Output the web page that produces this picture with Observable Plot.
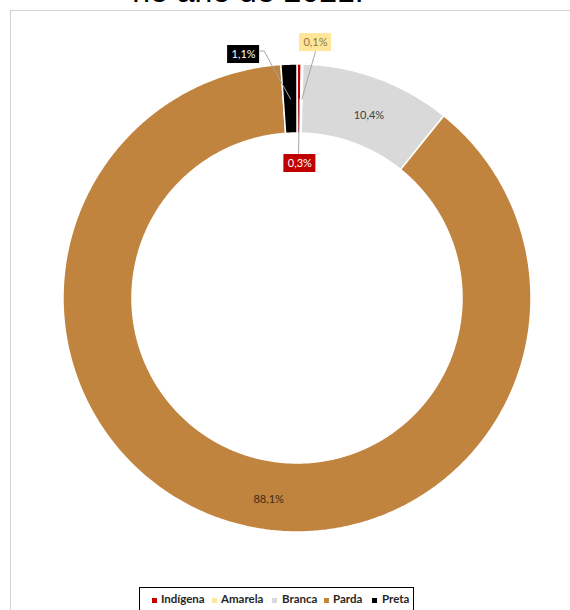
<!DOCTYPE html>
<html>
<head>
<meta charset="utf-8">
<script src="https://cdn.jsdelivr.net/npm/d3@7"></script>
<script src="https://cdn.jsdelivr.net/npm/@observablehq/plot@0.6"></script>
<style>
  html, body { margin: 0; padding: 0; background: #fff; width: 570px; height: 610px; overflow: hidden; }
  body { position: relative; }
  #chart { position: absolute; left: 0; top: 0; }
  #chart svg { background: transparent; }
  #frame { position: absolute; left: 10px; top: 10px; width: 620px; height: 660px;
           border-left: 1px solid #d2d2d2; border-top: 1px solid #d2d2d2; pointer-events: none; }
  #title { position: absolute; left: 0; width: 496px; top: -25px; text-align: center; white-space: nowrap;
           font: 32px/32px "Liberation Sans", Arial, sans-serif; color: #000; }
  #legend { position: absolute; left: 139px; top: 587px; width: 275px; height: 40px; box-sizing: border-box;
            border: 1px solid #000; background: #fff; }
  #legend .sw { position: absolute; top: 10px; width: 5px; height: 5px; }
  #legend .lb { position: absolute; top: 4px; font: bold 11.5px/14px Lato, sans-serif; color: #262626; white-space: nowrap; }
</style>
</head>
<body>
<div id="chart"></div>
<div id="frame"></div>
<div id="title">no ano de 2021.</div>
<div id="legend"></div>
<script>
// ---- data ----
const categories = ["Indígena", "Amarela", "Branca", "Parda", "Preta"];
const shares = [0.3, 0.1, 10.4, 88.1, 1.1];
const shareLabels = ["0,3%", "0,1%", "10,4%", "88,1%", "1,1%"];
const colors = ["#C00000", "#FFE699", "#D9D9D9", "#C0843F", "#000000"];

// ---- layout (pixels) ----
const W = 570, H = 610, CX = 297, CY = 298, R = 234, r = 165;
const rIn = r / R;
const labelOffset = [[0.5, 64.5], [13.6, -56.5], [2.7, 4.3], [31, 11], [-47, -44.6]];
const boxed = [true, true, false, false, true];
const boxFill = ["#C00000", "#FFE699", null, null, "#000000"];
const textFill = ["#ffffff", "#8C7A4A", "#404040", "#3f2a12", "#ffffff"];
const leaderPts = [[[-1.3, -9.5]], [[0, 9]], null, null, [[16.5, -3.5], [20.5, -3.5]]];
const boxW = 32, boxH = 18;
const legendSw = [12, 72, 132, 184, 232];
const legendTx = [21, 81, 142, 193, 242];

// ---- geometry from data ----
const arcs = d3.pie().sort(null).value(d => d)(shares);
const ringPts = [];
arcs.forEach((a, i) => {
  const n = Math.max(2, Math.ceil((a.endAngle - a.startAngle) / (Math.PI / 360)) + 1);
  for (let k = 0; k < n; k++) {
    const t = a.startAngle + (a.endAngle - a.startAngle) * k / (n - 1);
    ringPts.push({cat: categories[i], x1: Math.sin(t), y1: Math.cos(t), x2: rIn * Math.sin(t), y2: rIn * Math.cos(t)});
  }
});
const mid = arcs.map(a => {
  const t = (a.startAngle + a.endAngle) / 2, m = (1 + rIn) / 2;
  return [m * Math.sin(t), m * Math.cos(t)];
});
const labels = categories.map((c, i) => ({
  cat: c, text: shareLabels[i], i,
  x: mid[i][0] + labelOffset[i][0] / R,
  y: mid[i][1] - labelOffset[i][1] / R
}));
const boxes = labels.filter(d => boxed[d.i]).map(d => ({
  ...d, x1: d.x - boxW / 2 / R, x2: d.x + boxW / 2 / R, y1: d.y - boxH / 2 / R, y2: d.y + boxH / 2 / R
}));
const leaders = [];
labels.forEach(d => {
  if (!leaderPts[d.i]) return;
  leaderPts[d.i].forEach(p => leaders.push({cat: d.cat, x: d.x + p[0] / R, y: d.y - p[1] / R}));
  leaders.push({cat: d.cat, x: mid[d.i][0], y: mid[d.i][1]});
});

const chart = Plot.plot({
  width: W, height: H, margin: 0,
  style: {background: "transparent"},
  x: {domain: [-CX / R, (W - CX) / R], axis: null},
  y: {domain: [-(H - CY) / R, CY / R], axis: null},
  color: {domain: categories, range: colors},
  marks: [
    Plot.area(ringPts, {x1: "x1", y1: "y1", x2: "x2", y2: "y2", z: "cat", fill: "cat", stroke: "#fff", strokeWidth: 1.5}),
    Plot.line(leaders, {x: "x", y: "y", z: "cat", stroke: "#A6A6A6", strokeWidth: 1}),
    Plot.rect(boxes, {x1: "x1", x2: "x2", y1: "y1", y2: "y2", fill: d => boxFill[d.i]}),
    Plot.text(labels, {x: "x", y: "y", text: "text", fill: d => textFill[d.i], fontSize: 11, fontFamily: "Lato, sans-serif"})
  ]
});
document.getElementById("chart").appendChild(chart);

// ---- legend ----
const lg = document.getElementById("legend");
categories.forEach((c, i) => {
  const sw = document.createElement("div");
  sw.className = "sw"; sw.style.left = legendSw[i] + "px"; sw.style.background = colors[i];
  const lb = document.createElement("div");
  lb.className = "lb"; lb.style.left = legendTx[i] + "px"; lb.textContent = c;
  lg.appendChild(sw); lg.appendChild(lb);
});
</script>
</body>
</html>
